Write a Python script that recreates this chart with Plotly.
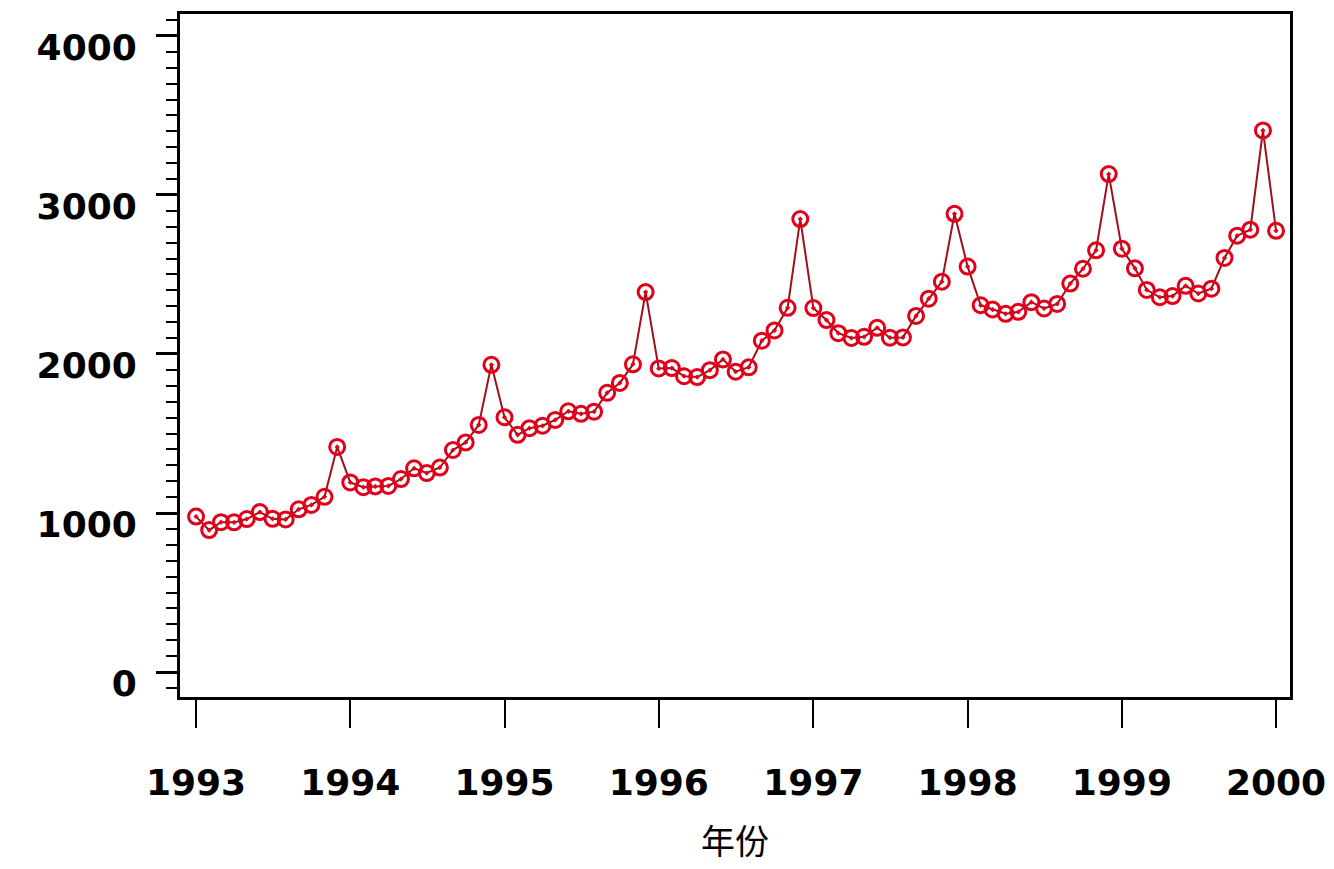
import pandas as pd
import plotly.graph_objects as go

# monthly values, Jan 1993 .. Jan 2000
sales = [
    977.5, 892.5, 942.3, 941.3, 962.2, 1005.7, 963.8, 959.8, 1023.3, 1051.1, 1102.0, 1415.5,
    1192.2, 1162.7, 1167.5, 1170.4, 1213.7, 1281.1, 1251.5, 1286.0, 1396.2, 1444.1, 1553.8, 1932.2,
    1602.2, 1491.5, 1533.3, 1548.7, 1585.4, 1639.7, 1623.6, 1637.1, 1756.0, 1818.0, 1935.2, 2389.5,
    1909.1, 1911.2, 1860.1, 1854.8, 1898.3, 1966.0, 1888.7, 1916.4, 2083.5, 2148.3, 2290.1, 2848.6,
    2288.5, 2213.5, 2130.9, 2100.5, 2108.2, 2164.7, 2102.5, 2104.4, 2239.6, 2348.0, 2454.9, 2881.7,
    2549.5, 2306.4, 2279.7, 2252.7, 2265.2, 2326.0, 2286.1, 2314.6, 2443.1, 2536.0, 2652.2, 3131.4,
    2662.1, 2538.4, 2403.1, 2356.8, 2364.0, 2428.8, 2380.3, 2410.9, 2604.3, 2743.9, 2781.5, 3405.7,
    2774.7,
]
months = pd.date_range("1993-01-01", periods=len(sales), freq="MS")

years = ["1993", "1994", "1995", "1996", "1997", "1998", "1999", "2000"]
year_ticks = [y + "-01-01" for y in years]
y_ticks = [0, 1000, 2000, 3000, 4000]

tick_font = dict(family="DejaVu Sans", size=36, color="black", weight="bold")

fig = go.Figure()
fig.add_trace(go.Scatter(
    x=months, y=sales, mode="lines+markers",
    line=dict(color="#a0101c", width=2),
    marker=dict(symbol="circle-open-dot", size=15, color="#e0001a",
                line=dict(width=3, color="#e0001a")),
    hoverinfo="skip",
))

# page body adds an 8px offset, so margins are shifted to compensate
fig.update_layout(
    width=1334, height=869,
    margin=dict(l=172, r=52, t=6, b=180),
    paper_bgcolor="white", plot_bgcolor="white",
    showlegend=False,
)

fig.update_xaxes(
    range=["1992-11-24", "2000-02-03"],
    tickmode="array", tickvals=year_ticks, ticktext=years,
    ticks="outside", ticklen=28, tickwidth=2, tickcolor="black",
    tickfont=tick_font, ticklabelstandoff=24,
    showline=True, linecolor="black", linewidth=3, mirror=True,
    showgrid=False, zeroline=False, automargin=False,
    title=dict(text="年份", font=dict(family="Noto Sans CJK SC", size=34, color="black"),
               standoff=28),
)
fig.update_yaxes(
    range=[-157, 4138],
    tickmode="array", tickvals=y_ticks,
    ticks="outside", ticklen=21, tickwidth=3, tickcolor="black",
    tickfont=tick_font, ticklabelstandoff=12, ticklabelshift=11,
    minor=dict(dtick=100, tick0=0, ticks="outside", ticklen=11, tickwidth=2, tickcolor="black"),
    showline=True, linecolor="black", linewidth=3, mirror=True,
    showgrid=False, zeroline=False, automargin=False,
)

fig.write_html("out.html")
